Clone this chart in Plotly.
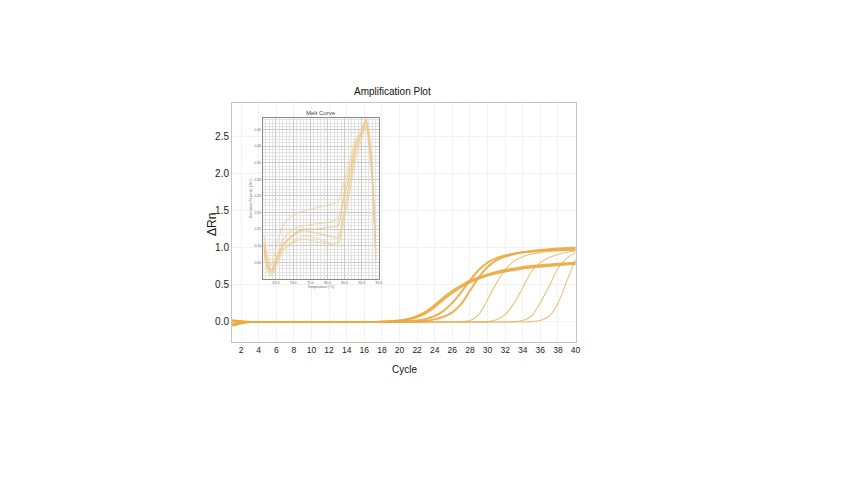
import plotly.graph_objects as go

# ---------------- Amplification data (ΔRn per cycle) ----------------
cycles = list(range(1, 41))

amp_bold_A1 = [0.02, 0.01, 0, 0, 0, 0, 0, 0, 0, 0, 0, 0, 0, 0, 0, 0, 0, 0.005, 0.01, 0.02,
               0.04, 0.08, 0.14, 0.23, 0.33, 0.42, 0.49, 0.555, 0.60, 0.64, 0.675, 0.70, 0.72, 0.74,
               0.755, 0.765, 0.775, 0.785, 0.79, 0.80]
amp_bold_A2 = [-0.05, -0.02, 0, 0, 0, 0, 0, 0, 0, 0, 0, 0, 0, 0, 0, 0, 0, 0.003, 0.008, 0.016,
               0.032, 0.065, 0.12, 0.2, 0.3, 0.39, 0.47, 0.535, 0.585, 0.625, 0.655, 0.68, 0.70, 0.72,
               0.735, 0.745, 0.755, 0.765, 0.775, 0.78]
amp_bold_B1 = [0.01, 0.005, 0, 0, 0, 0, 0, 0, 0, 0, 0, 0, 0, 0, 0, 0, 0, 0, 0, 0.005,
               0.01, 0.02, 0.04, 0.08, 0.15, 0.26, 0.40, 0.56, 0.70, 0.80, 0.86, 0.895, 0.92, 0.94,
               0.95, 0.96, 0.965, 0.97, 0.975, 0.98]
amp_bold_B2 = [-0.03, -0.01, 0, 0, 0, 0, 0, 0, 0, 0, 0, 0, 0, 0, 0, 0, 0, 0, 0, 0,
               0.003, 0.005, 0.015, 0.035, 0.07, 0.13, 0.24, 0.42, 0.60, 0.74, 0.83, 0.88, 0.915, 0.94,
               0.955, 0.97, 0.98, 0.99, 0.995, 1.0]
amp_thin_C = [0.03, 0.01, 0, 0, 0, 0, 0, 0, 0, 0, 0, 0, 0, 0, 0, 0, 0, 0, 0, 0,
              0, 0, 0, 0, 0, 0, 0.005, 0.02, 0.10, 0.30, 0.52, 0.70, 0.82, 0.88,
              0.915, 0.935, 0.95, 0.96, 0.965, 0.97]
amp_thin_D = [-0.02, -0.01, 0, 0, 0, 0, 0, 0, 0, 0, 0, 0, 0, 0, 0, 0, 0, 0, 0, 0,
              0, 0, 0, 0, 0, 0, 0, 0, 0, 0.005, 0.03, 0.10, 0.25, 0.46, 0.68, 0.80, 0.87, 0.91,
              0.94, 0.955]
amp_thin_E = [0.0, 0.0, 0, 0, 0, 0, 0, 0, 0, 0, 0, 0, 0, 0, 0, 0, 0, 0, 0, 0,
              0, 0, 0, 0, 0, 0, 0, 0, 0, 0, 0, 0, 0.005, 0.02, 0.08, 0.26, 0.48, 0.72, 0.86, 0.93]
amp_thin_F = [-0.04, -0.015, 0, 0, 0, 0, 0, 0, 0, 0, 0, 0, 0, 0, 0, 0, 0, 0, 0, 0,
              0, 0, 0, 0, 0, 0, 0, 0, 0, 0, 0, 0, 0, 0, 0.005, 0.02, 0.08, 0.25, 0.55, 0.84]

bold_series = [amp_bold_A1, amp_bold_A2, amp_bold_B1, amp_bold_B2]
thin_series = [amp_thin_C, amp_thin_D, amp_thin_E, amp_thin_F]

y_ticks = [0.0, 0.5, 1.0, 1.5, 2.0, 2.5]
y_tick_labels = ["0.0", "0.5", "1.0", "1.5", "2.0", "2.5"]
x_ticks = list(range(2, 41, 2))

# ---------------- Melt curve data (derivative vs temperature) ----------------
melt_temp = [61.5, 62.7, 63.7, 65.2, 67.1, 70.1, 73, 76, 80, 83, 84.8, 86.8, 88.2, 90.2, 91.2, 92.1, 93.1, 94.1]
melt_1 = [0.13, 0.062, 0.042, 0.10, 0.163, 0.193, 0.205, 0.213, 0.223, 0.233, 0.29, 0.37, 0.42, 0.46, 0.48, 0.44, 0.32, 0.10]
melt_2 = [0.11, 0.05, 0.03, 0.07, 0.12, 0.15, 0.16, 0.165, 0.17, 0.18, 0.26, 0.35, 0.41, 0.45, 0.47, 0.40, 0.28, 0.08]
melt_3 = [0.09, 0.035, 0.02, 0.055, 0.10, 0.13, 0.145, 0.14, 0.13, 0.125, 0.20, 0.30, 0.38, 0.44, 0.46, 0.42, 0.30, 0.06]
melt_4 = [0.08, 0.025, 0.015, 0.045, 0.09, 0.115, 0.13, 0.125, 0.11, 0.10, 0.17, 0.28, 0.36, 0.43, 0.47, 0.45, 0.33, 0.07]
melt_5 = [0.10, 0.04, 0.025, 0.06, 0.105, 0.135, 0.15, 0.15, 0.155, 0.16, 0.24, 0.33, 0.40, 0.45, 0.48, 0.43, 0.30, 0.09]
melt_6 = [0.07, 0.02, 0.01, 0.04, 0.085, 0.11, 0.12, 0.115, 0.105, 0.11, 0.19, 0.31, 0.39, 0.45, 0.49, 0.44, 0.31, 0.05]
melt_series = [melt_1, melt_2, melt_3, melt_4, melt_5, melt_6]
melt_x_ticks = [65, 70, 75, 80, 85, 90, 95]
melt_y_ticks = [0.05, 0.10, 0.15, 0.20, 0.25, 0.30, 0.35, 0.40, 0.45]

FONT = "Liberation Sans, Arial, sans-serif"

fig = go.Figure()

for s in thin_series:
    fig.add_trace(go.Scatter(x=cycles, y=s, mode="lines",
                             line=dict(color="rgba(230,178,95,0.8)", width=1.1, shape="spline", smoothing=0.8),
                             xaxis="x", yaxis="y", showlegend=False, hoverinfo="skip"))
for s in bold_series:
    fig.add_trace(go.Scatter(x=cycles, y=s, mode="lines",
                             line=dict(color="rgba(236,168,62,0.9)", width=2.0, shape="spline", smoothing=0.8),
                             xaxis="x", yaxis="y", showlegend=False, hoverinfo="skip"))

melt_colors = ["rgba(238,208,155,0.75)", "rgba(238,205,150,0.75)", "rgba(235,198,135,0.75)",
               "rgba(238,208,155,0.75)", "rgba(233,192,125,0.8)", "rgba(238,208,155,0.75)"]
for s, c in zip(melt_series, melt_colors):
    fig.add_trace(go.Scatter(x=melt_temp, y=s, mode="lines",
                             line=dict(color=c, width=1.1, shape="spline", smoothing=0.6),
                             xaxis="x2", yaxis="y2", showlegend=False, hoverinfo="skip"))

fig.update_layout(
    width=853, height=481,
    margin=dict(l=224, r=285, t=95, b=147),
    paper_bgcolor="white", plot_bgcolor="white",
    font=dict(family=FONT, color="#222"),
    xaxis=dict(range=[0.97, 40.05], tickvals=x_ticks, showgrid=True, gridcolor="#f2f2f2", gridwidth=1,
               zeroline=False, showline=True, linecolor="#c4c4c4", linewidth=1, mirror=True,
               ticks="", tickfont=dict(size=8.5, color="#222"), domain=[0, 1]),
    yaxis=dict(range=[-0.27, 2.95], tickvals=y_ticks, ticktext=y_tick_labels, showgrid=True, gridcolor="#f2f2f2",
               zeroline=False, showline=True, linecolor="#c4c4c4", linewidth=1, mirror=True,
               ticks="", tickfont=dict(size=10, color="#222"), domain=[0, 1]),
    xaxis2=dict(domain=[0.090, 0.427], anchor="y2", range=[61.2, 95], tickvals=melt_x_ticks,
                ticktext=[f"{v:.1f}" for v in melt_x_ticks], tickfont=dict(size=3.5, color="#666"),
                showgrid=True, gridcolor="#cccccc", gridwidth=0.6,
                minor=dict(dtick=1, showgrid=True, gridcolor="#e3e3e3", gridwidth=0.5),
                showline=True, linecolor="#8a8a8a", linewidth=1, mirror=True, zeroline=False, ticks="",
                title=dict(text="Temperature (°C)", font=dict(size=3.5, color="#666"), standoff=1)),
    yaxis2=dict(domain=[0.264, 0.937], anchor="x2", range=[0, 0.485], tickvals=melt_y_ticks,
                ticktext=[f"{v:.2f}" for v in melt_y_ticks], tickfont=dict(size=3.5, color="#666"),
                showgrid=True, gridcolor="#cccccc", gridwidth=0.6,
                minor=dict(dtick=0.01, showgrid=True, gridcolor="#e3e3e3", gridwidth=0.5),
                showline=True, linecolor="#8a8a8a", linewidth=1, mirror=True, zeroline=False, ticks="",
                title=dict(text="Derivative Reporter (-Rn')", font=dict(size=3.5, color="#666"), standoff=2)),
    annotations=[
        dict(text="Amplification Plot", x=0.468, y=1.050, xref="paper", yref="paper", showarrow=False,
             font=dict(size=10, color="#111"), xanchor="center", yanchor="middle"),
        dict(text="Melt Curve", x=0.259, y=0.958, xref="paper", yref="paper", showarrow=False,
             font=dict(size=6, color="#444"), xanchor="center", yanchor="middle"),
        dict(text="Cycle", x=0.5, y=-0.117, xref="paper", yref="paper", showarrow=False,
             font=dict(size=10, color="#111"), xanchor="center", yanchor="middle"),
        dict(text="ΔRn", x=-0.058, y=0.490, xref="paper", yref="paper", showarrow=False, textangle=-90,
             font=dict(size=12, color="#111"), xanchor="center", yanchor="middle"),
    ],
)

fig.write_html("out.html")
